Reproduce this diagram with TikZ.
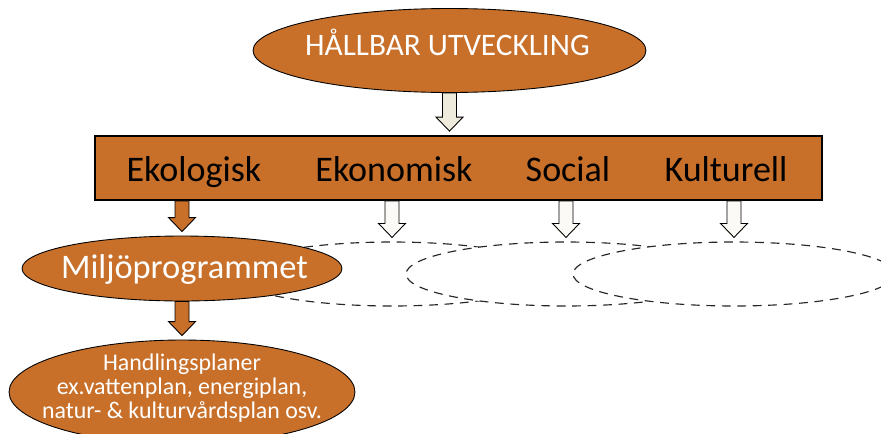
\documentclass[tikz,border=0pt]{standalone}
\usepackage{fontspec}
\setmainfont{Carlito}
\usepackage{tikz}
\usetikzlibrary{calc}
\usetikzlibrary{shapes.geometric}
\definecolor{rust}{RGB}{200,112,42}
\definecolor{cream}{RGB}{238,234,220}
\definecolor{paper}{RGB}{251,250,246}
\tikzstyle{goal}=[
  ellipse,
  draw,
  fill=rust,
  inner sep=0pt,
  line width=0.5pt
]
\tikzstyle{area}=[
  ellipse,
  draw=black!85,
  fill=white,
  inner sep=0pt,
  line width=0.65pt,
  dash pattern=on 5pt off 3.8pt,
  minimum width=6.4cm,
  minimum height=1.28cm
]
\tikzstyle{pillar}=[
  anchor=base,
  text=black,
  font=\fontsize{20.5}{22}\selectfont
]
\tikzstyle{blocktip}=[
  draw,
  line width=0.5pt
]
\newcommand{\blockarrow}[3]{{
  \newcommand{\arrowsrc}{#1}
  \newcommand{\arrowdst}{#2}

  \draw[blocktip, fill=#3]
    ($(\arrowsrc) + (-7, 0)$) -- ($(\arrowsrc) + (7, 0)$)
    -- ($(\arrowdst) + (7, -18)$) -- ($(\arrowdst) + (13.5, -18)$)
    -- ($(\arrowdst) + (0, -4)$)
    -- ($(\arrowdst) + (-13.5, -18)$) -- ($(\arrowdst) + (-7, -18)$) -- cycle;
}}
\begin{document}
\begin{tikzpicture}[x=0.02cm, y=-0.02cm]
      \useasboundingbox (0, 0) rectangle (881, 433);

      % dashed areas, later ones cover earlier ones
      \node[area                    ] (one)   at (392,   274) {};
      \node[area                    ] (two)   at (566,   274) {};
      \node[area, minimum width=6.44cm] (three) at (734,   274) {};

      \node[goal, minimum width=7.86cm, minimum height=1.68cm] (top)   at (449.5, 50.5) {};
      \node[goal, minimum width=6.4cm,  minimum height=1.3cm ] (mil)   at (182,   268.5) {};
      \node[goal, minimum width=6.92cm, minimum height=2.08cm] (handl) at (182,   392) {};
      \node[draw, fill=rust, line width=1pt,
            minimum width=14.54cm, minimum height=1.28cm] (bar) at (458.5, 168) {};

      \node[anchor=base, text=white, font=\fontsize{17.8}{19}\selectfont]
        (toptext) at (447.5, 55) {HÅLLBAR UTVECKLING};
      \node[anchor=base, text=white, font=\fontsize{19.6}{21}\selectfont]
        (miltext) at (184.5, 278) {Miljöprogrammet};
      \node[text=white, align=center, inner sep=0pt, font=\fontsize{13.6}{13.6}\selectfont]
        (handltext) at (182, 388) {Handlingsplaner\\ex.vattenplan, energiplan,\\natur- \& kulturvårdsplan osv.};

      \node[pillar] (ekol) at (194,   181) {Ekologisk};
      \node[pillar] (ekon) at (394,   181) {Ekonomisk};
      \node[pillar] (soc)  at (568,   181) {Social};
      \node[pillar] (kult) at (726,   181) {Kulturell};

      \blockarrow{top.south}{bar.north -| top.south}{cream}
      \blockarrow{bar.south -| mil.north}{mil.north}{rust}
      \blockarrow{mil.south}{handl.north}{rust}
      \blockarrow{bar.south -| one.north}{one.north}{paper}
      \blockarrow{bar.south -| two.north}{two.north}{paper}
      \blockarrow{bar.south -| three.north}{three.north}{paper}
    \end{tikzpicture}
\end{document}
